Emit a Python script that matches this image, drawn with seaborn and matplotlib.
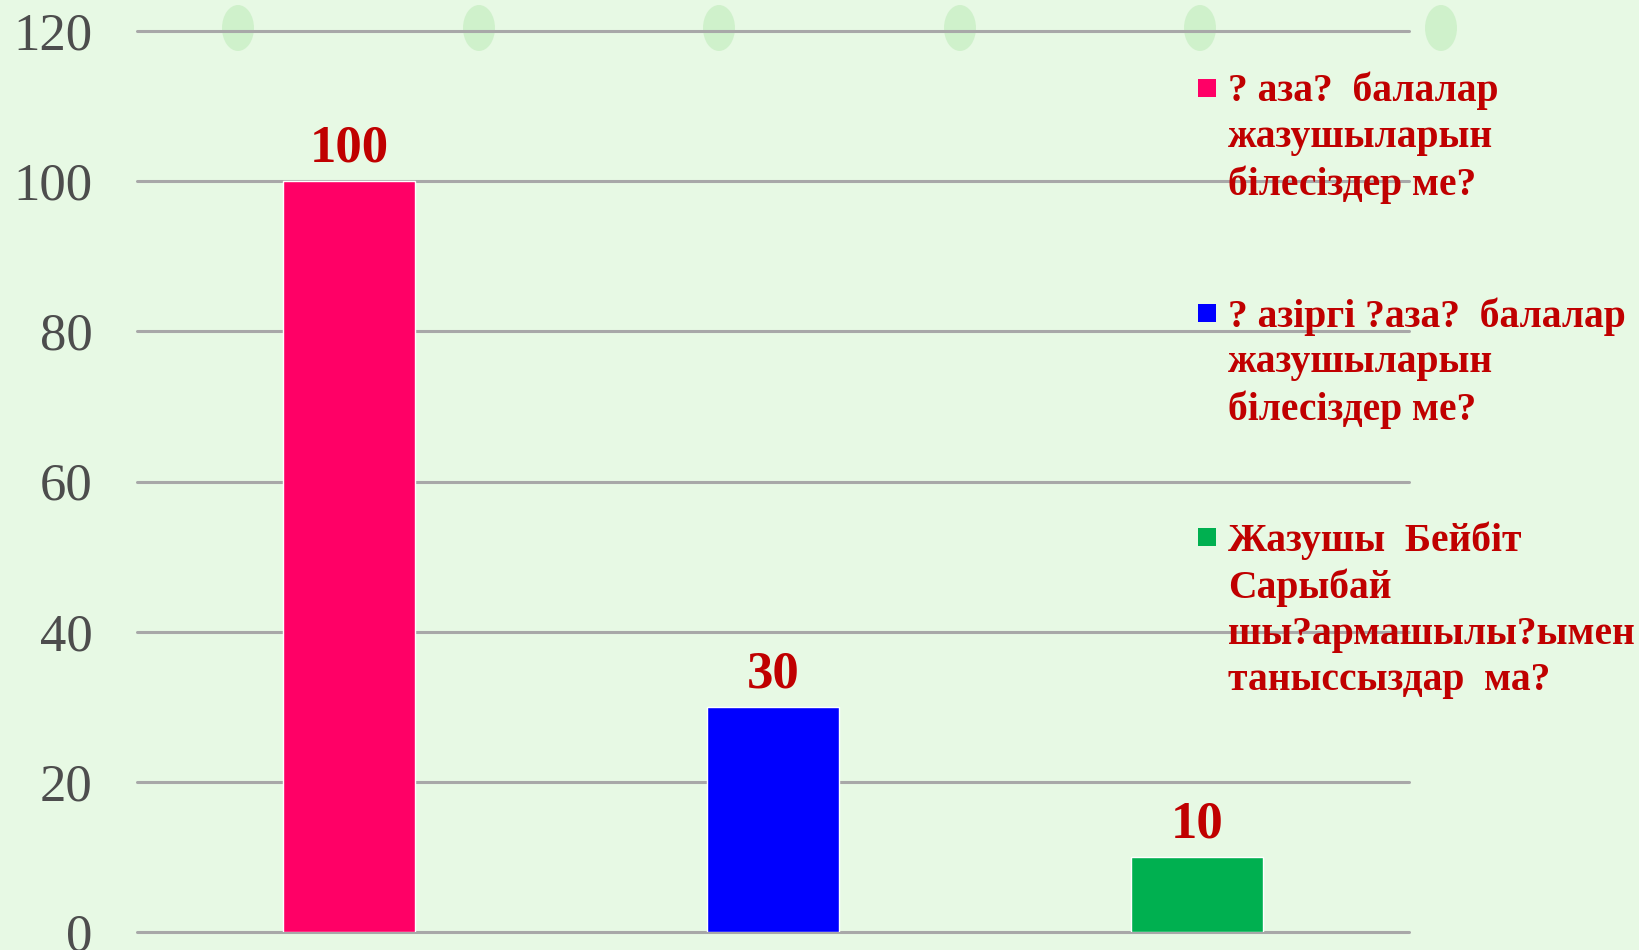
import matplotlib
matplotlib.use("Agg")
import matplotlib.pyplot as plt
import seaborn as sns
import pandas as pd
from matplotlib.patches import Rectangle, Ellipse

# ---- data ----
categories = [
    "? аза?  балалар\nжазушыларын\nбілесіздер ме?",
    "? азіргі ?аза?  балалар\nжазушыларын\nбілесіздер ме?",
    "Жазушы  Бейбіт\nСарыбай\nшы?армашылы?ымен\nтаныссыздар  ма?",
]
values = [100, 30, 10]
colors = ["#FF0066", "#0000FF", "#00B050"]
yticks = [0, 20, 40, 60, 80, 100, 120]

df = pd.DataFrame({"cat": categories, "val": values})

sns.set_theme(style="white")
plt.rcParams["font.family"] = ["Liberation Serif", "DejaVu Serif"]

W, H = 1639, 950
bg = "#E7F9E4"
fig = plt.figure(figsize=(W / 100, H / 100), dpi=100, facecolor=bg)

# faint decorative background dots along the top (slide background)
for xc in [238, 479, 719, 960, 1200, 1441]:
    fig.patches.append(Ellipse((xc / W, 1 - 28 / H), 32 / W, 46 / H,
                               transform=fig.transFigure, facecolor="#BDEBB8",
                               edgecolor="none", alpha=0.55, zorder=-1))

ax = fig.add_axes([137 / W, 18 / H, (1409 - 137) / W, (932 - 31) / H])
ax.set_facecolor("none")

sns.barplot(data=df, x="cat", y="val", hue="cat", palette=colors, saturation=1,
            width=0.31, dodge=False, legend=False, ax=ax, zorder=3)

ax.set_xlim(-0.5, 2.5)
ax.set_ylim(0, 120)
ax.set_yticks(yticks)
ax.set_yticklabels([str(t) for t in yticks], fontsize=38, color="#4D4D4D")
ax.tick_params(axis="y", length=0, pad=32)
ax.set_xticks([])
ax.set_xlabel("")
ax.set_ylabel("")
for s in ax.spines.values():
    s.set_visible(False)
ax.grid(axis="y", color="#A8A8A8", linewidth=2.2, zorder=1)
ax.set_axisbelow(True)
for gl in ax.get_ygridlines():
    gl.set_clip_on(False)

for c in ax.containers:
    ax.bar_label(c, fontsize=38, fontweight="bold", color="#C00000", padding=6)

# legend (entries aligned to their first line, as in the reference)
first_line_y = [89, 314, 538]   # px from top, centre of first line
for lab, col, yl in zip(categories, colors, first_line_y):
    fig.text(1228 / W, 1 - (yl - 17) / H, lab, ha="left", va="top",
             fontsize=28.5, fontweight="bold", color="#C00000", linespacing=1.31)
    fig.patches.append(Rectangle((1198 / W, 1 - (yl + 8) / H), 18 / W, 18 / H,
                                 transform=fig.transFigure, facecolor=col,
                                 edgecolor="none", zorder=5))

fig.savefig("out.png", dpi=100, facecolor=bg)
